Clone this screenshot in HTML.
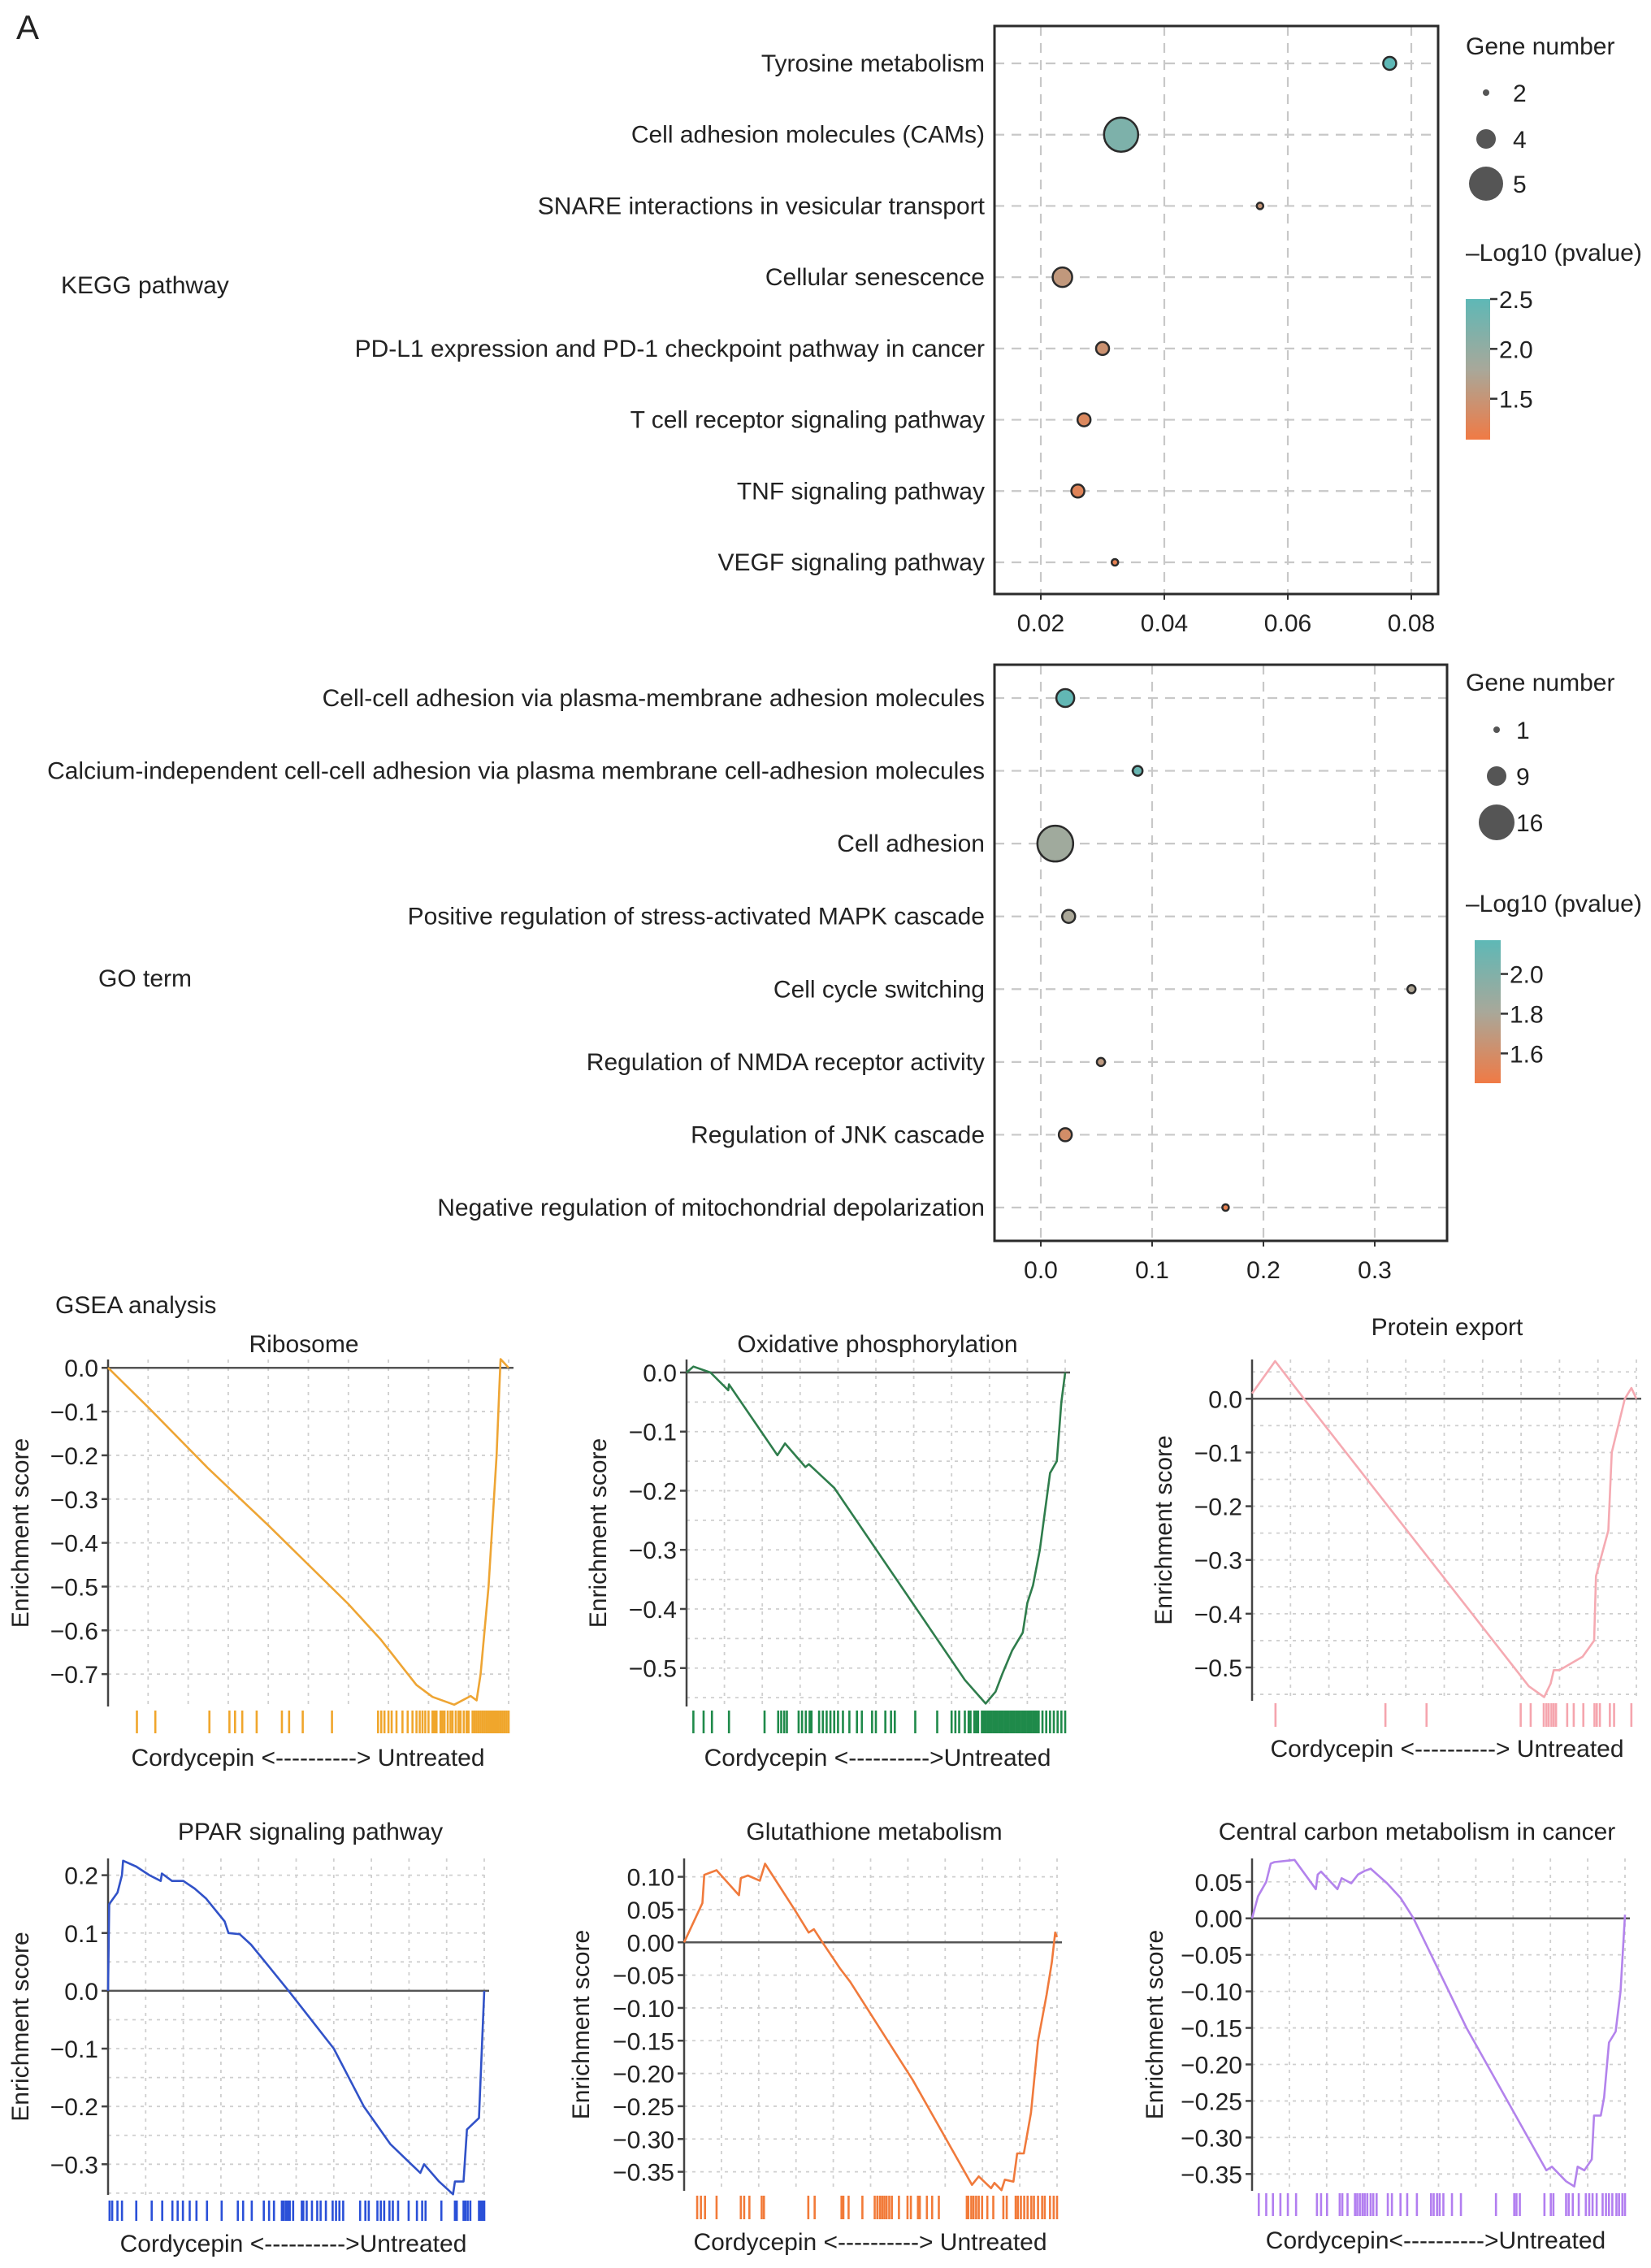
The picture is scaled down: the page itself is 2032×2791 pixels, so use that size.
<!DOCTYPE html>
<html><head><meta charset="utf-8"><title>KEGG / GO / GSEA</title>
<style>
html,body{margin:0;padding:0;background:#fff;}
svg{display:block;font-family:"Liberation Sans",Arial,sans-serif;}
text{fill:#222;}
</style></head>
<body>
<svg id="fig" xmlns="http://www.w3.org/2000/svg" width="2032" height="2791" viewBox="0 0 2032 2791">
<rect x="0" y="0" width="2032" height="2791" fill="#fff"/>
<text x="20" y="48" font-size="42">A</text>
<text x="75" y="361" font-size="30">KEGG pathway</text>
<text x="121" y="1214" font-size="30">GO term</text>
<text x="68" y="1616" font-size="30">GSEA analysis</text>
<g id="layer"></g>
</svg>
<script>
// ===== KEGG dot plot data =====
const keggTerms = ["Tyrosine metabolism","Cell adhesion molecules (CAMs)","SNARE interactions in vesicular transport","Cellular senescence","PD-L1 expression and PD-1 checkpoint pathway in cancer","T cell receptor signaling pathway","TNF signaling pathway","VEGF signaling pathway"];
const keggRatio = [0.0765,0.033,0.0555,0.0235,0.030,0.027,0.026,0.032];
const keggCount = [3,5,2,4,3,3,3,2];
const keggLogP  = [2.5,2.2,1.5,1.55,1.45,1.3,1.25,1.2];
const keggTicks = [0.02,0.04,0.06,0.08];
const keggTickLabels = ["0.02","0.04","0.06","0.08"];
const keggSizeBreaks = [2,4,5];
const keggColorTicks = [2.5,2.0,1.5];
// ===== GO dot plot data =====
const goTerms = ["Cell-cell adhesion via plasma-membrane adhesion molecules","Calcium-independent cell-cell adhesion via plasma membrane cell-adhesion molecules","Cell adhesion","Positive regulation of stress-activated MAPK cascade","Cell cycle switching","Regulation of NMDA receptor activity","Regulation of JNK cascade","Negative regulation of mitochondrial depolarization"];
const goRatio = [0.022,0.087,0.013,0.025,0.333,0.054,0.022,0.166];
const goCount = [8,3,16,5,2,2,5,1];
const goLogP  = [2.15,2.12,1.85,1.8,1.78,1.7,1.6,1.5];
const goTicks = [0.0,0.1,0.2,0.3];
const goTickLabels = ["0.0","0.1","0.2","0.3"];
const goSizeBreaks = [1,9,16];
const goColorTicks = [2.0,1.8,1.6];
// ===== GSEA data =====
const ribX = [0,0.1,0.25,0.4,0.5,0.6,0.68,0.74,0.77,0.81,0.864,0.905,0.92,0.93,0.95,0.97,0.977,0.98,1.0];
const ribY = [0,-0.09,-0.23,-0.36,-0.45,-0.54,-0.62,-0.69,-0.725,-0.752,-0.77,-0.75,-0.76,-0.70,-0.5,-0.2,-0.04,0.02,0];
const ribRug = [.072,.118,.253,.303,.317,.335,.371,.434,.452,.486,.559,.674,.682,.69,.70,.708,.72,.735,.748,.76,.77,.778,.785,.792,.80,.81,.815,.82,.83,.835,.84,.848,.855,.86,.868,.875,.88,.888,.895,.90,.91,.915,.92,.925,.93,.935,.94,.945,.95,.955,.96,.965,.97,.975,.98,.985,.99,.995,1.0];
const ribTicks = [0,-0.1,-0.2,-0.3,-0.4,-0.5,-0.6,-0.7];
const ribTickLabels = ["0.0","\u22120.1","\u22120.2","\u22120.3","\u22120.4","\u22120.5","\u22120.6","\u22120.7"];

const oxX = [0,0.018,0.063,0.11,0.112,0.24,0.26,0.314,0.323,0.39,0.735,0.79,0.816,0.834,0.86,0.888,0.9,0.915,0.933,0.96,0.978,0.99,1.0];
const oxY = [0,0.01,0,-0.03,-0.02,-0.14,-0.12,-0.16,-0.155,-0.195,-0.52,-0.56,-0.54,-0.51,-0.47,-0.44,-0.39,-0.36,-0.30,-0.17,-0.15,-0.05,0];
const oxRug = [.018,.045,.067,.112,.206,.242,.25,.258,.265,.296,.305,.315,.325,.33,.35,.36,.37,.38,.39,.4,.413,.43,.45,.463,.49,.5,.525,.54,.55,.604,.662,.70,.71,.72,.735,.745,.75,.76,.765,.77,.78,.785,.79,.795,.80,.805,.81,.815,.82,.825,.83,.835,.84,.845,.85,.855,.86,.865,.87,.875,.88,.885,.89,.895,.90,.905,.91,.915,.92,.925,.93,.94,.95,.96,.97,.98,.99,1.0];
const oxTicks = [0,-0.1,-0.2,-0.3,-0.4,-0.5];
const oxTickLabels = ["0.0","\u22120.1","\u22120.2","\u22120.3","\u22120.4","\u22120.5"];

const peX = [0,0.06,0.135,0.72,0.76,0.777,0.785,0.80,0.86,0.89,0.895,0.927,0.936,0.97,0.987,1.0];
const peY = [0.01,0.07,0,-0.535,-0.555,-0.53,-0.505,-0.505,-0.48,-0.45,-0.33,-0.245,-0.10,0,0.02,0];
const peRug = [.061,.347,.454,.699,.725,.759,.766,.772,.779,.785,.791,.82,.837,.862,.891,.897,.905,.931,.942,.987];
const peTicks = [0,-0.1,-0.2,-0.3,-0.4,-0.5];
const peTickLabels = ["0.0","\u22120.1","\u22120.2","\u22120.3","\u22120.4","\u22120.5"];

const ppX = [0,0.003,0.025,0.037,0.04,0.075,0.11,0.14,0.143,0.17,0.2,0.23,0.26,0.31,0.32,0.35,0.38,0.43,0.48,0.6,0.68,0.75,0.83,0.84,0.88,0.917,0.922,0.945,0.954,0.986,1.0];
const ppY = [0,0.15,0.17,0.2,0.225,0.215,0.2,0.19,0.203,0.19,0.19,0.177,0.16,0.12,0.1,0.098,0.08,0.04,0,-0.1,-0.2,-0.265,-0.315,-0.3,-0.33,-0.352,-0.33,-0.33,-0.24,-0.22,0];
const ppRug = [.004,.011,.025,.037,.075,.116,.144,.171,.185,.199,.217,.235,.263,.302,.345,.359,.382,.414,.428,.441,.462,.467,.473,.478,.483,.492,.515,.519,.528,.542,.556,.565,.579,.597,.606,.615,.625,.670,.684,.693,.716,.725,.734,.748,.757,.771,.799,.821,.835,.844,.886,.922,.927,.945,.950,.956,.963,.986,.991,.995,1.0];
const ppTicks = [0.2,0.1,0,-0.1,-0.2,-0.3];
const ppTickLabels = ["0.2","0.1","0.0","\u22120.1","\u22120.2","\u22120.3"];

const glX = [0,0.049,0.054,0.087,0.147,0.152,0.171,0.203,0.217,0.296,0.334,0.348,0.371,0.418,0.445,0.613,0.772,0.79,0.823,0.832,0.851,0.86,0.883,0.893,0.911,0.93,0.949,0.972,0.986,0.995,1.0];
const glY = [0,0.06,0.103,0.11,0.072,0.098,0.102,0.094,0.12,0.05,0.015,0.02,0,-0.04,-0.06,-0.21,-0.37,-0.357,-0.375,-0.367,-0.378,-0.362,-0.365,-0.322,-0.322,-0.26,-0.15,-0.08,-0.03,0.015,0.008];
const glRug = [.035,.045,.056,.087,.152,.161,.175,.208,.214,.333,.35,.422,.427,.441,.478,.511,.518,.525,.531,.537,.543,.550,.557,.576,.599,.608,.627,.632,.651,.665,.683,.758,.762,.770,.776,.783,.790,.799,.813,.829,.856,.865,.889,.895,.903,.912,.921,.931,.938,.949,.96,.967,.981,.991,1.0];
const glTicks = [0.10,0.05,0,-0.05,-0.10,-0.15,-0.20,-0.25,-0.30,-0.35];
const glTickLabels = ["0.10","0.05","0.00","\u22120.05","\u22120.10","\u22120.15","\u22120.20","\u22120.25","\u22120.30","\u22120.35"];

const ccX = [0,0.016,0.038,0.05,0.06,0.114,0.171,0.176,0.185,0.229,0.240,0.266,0.284,0.302,0.318,0.362,0.398,0.433,0.575,0.789,0.804,0.842,0.864,0.873,0.891,0.911,0.917,0.935,0.944,0.957,0.975,0.988,1.0];
const ccY = [0,0.03,0.05,0.075,0.077,0.08,0.04,0.06,0.064,0.04,0.055,0.048,0.06,0.065,0.068,0.048,0.028,0,-0.15,-0.345,-0.34,-0.36,-0.367,-0.34,-0.345,-0.33,-0.27,-0.27,-0.245,-0.17,-0.155,-0.1,0.005];
const ccRug = [.018,.038,.056,.076,.096,.118,.174,.185,.201,.235,.242,.256,.276,.282,.289,.296,.302,.309,.318,.325,.334,.364,.375,.398,.416,.442,.480,.487,.496,.503,.513,.536,.560,.654,.703,.709,.718,.784,.801,.808,.842,.849,.860,.876,.895,.904,.913,.924,.940,.949,.957,.966,.977,.984,.993,1.0];
const ccTicks = [0.05,0,-0.05,-0.10,-0.15,-0.20,-0.25,-0.30,-0.35];
const ccTickLabels = ["0.05","0.00","\u22120.05","\u22120.10","\u22120.15","\u22120.20","\u22120.25","\u22120.30","\u22120.35"];

const NS = "http://www.w3.org/2000/svg";
const layer = document.getElementById('layer');
function mk(tag, attrs, parent){ const e=document.createElementNS(NS,tag); for(const k in attrs) e.setAttribute(k,attrs[k]); (parent||layer).appendChild(e); return e; }
function lerp(a,b,t){return a+(b-a)*t;}
function colorAt(t){
  t=Math.max(0,Math.min(1,t));
  const o=[240,122,69], g=[168,168,154], c=[94,184,182];
  let a,b,u; if(t<0.5){a=o;b=g;u=t/0.5;} else {a=g;b=c;u=(t-0.5)/0.5;}
  return 'rgb('+Math.round(lerp(a[0],b[0],u))+','+Math.round(lerp(a[1],b[1],u))+','+Math.round(lerp(a[2],b[2],u))+')';
}
function radiusFor(n, breaks, radii){
  if(n<=breaks[0]) return radii[0]*Math.max(0.6,n/breaks[0]);
  for(let i=1;i<breaks.length;i++){ if(n<=breaks[i]) return lerp(radii[i-1],radii[i],(n-breaks[i-1])/(breaks[i]-breaks[i-1])); }
  return radii[radii.length-1];
}
const FS = 30;

function dotPlot(cfg){
  const g = mk('g',{});
  
  
  const xS = v => cfg.x0px + (v-cfg.x0v)*(cfg.x1px-cfg.x0px)/(cfg.x1v-cfg.x0v);
  const n = cfg.terms.length;
  const yS = i => cfg.row0 + i*(cfg.rowN-cfg.row0)/(n-1);
  const cS = v => cfg.cbTop + (cfg.cbMax - v)*(cfg.cbBot-cfg.cbTop)/(cfg.cbMax-cfg.cbMin);
  cfg.ticks.forEach((t,i)=>{
    const l = mk('line',{x1:xS(t),x2:xS(t),y1:cfg.top,y2:cfg.bottom,stroke:'#c8c8c8','stroke-width':2.2,'stroke-dasharray':'12 9'},g);
    
    
    const tk = mk('line',{x1:xS(t),x2:xS(t),y1:cfg.bottom,y2:cfg.bottom+7,stroke:'#333','stroke-width':2},g);
    
    
    const tl = mk('text',{x:xS(t),y:cfg.bottom+46,'font-size':FS,'text-anchor':'middle'},g);
    tl.textContent = cfg.tickLabels[i];
    
    
  });
  cfg.terms.forEach((term,i)=>{
    const l = mk('line',{x1:cfg.left,x2:cfg.right,y1:yS(i),y2:yS(i),stroke:'#c8c8c8','stroke-width':2.2,'stroke-dasharray':'12 9'},g);
    
    
    const t = mk('text',{x:cfg.left-12,y:yS(i)+10,'font-size':FS,'text-anchor':'end'},g);
    t.textContent = term;
    
    
  });
  cfg.terms.forEach((term,i)=>{
    const r = radiusFor(cfg.count[i], cfg.sizeBreaks, cfg.sizeRadii);
    const tcol = (cfg.logp[i]-cfg.cbMin)/(cfg.cbMax-cfg.cbMin);
    const c = mk('circle',{cx:xS(cfg.ratio[i]),cy:yS(i),r:r,fill:colorAt(tcol),stroke:'#2b2b2b','stroke-width':2.5},g);
    
    
  });
  const box = mk('rect',{x:cfg.left,y:cfg.top,width:cfg.right-cfg.left,height:cfg.bottom-cfg.top,fill:'none',stroke:'#2b2b2b','stroke-width':3},g);
  
  
  const lt = mk('text',{x:cfg.legX,y:cfg.legTitleY,'font-size':FS},g);
  lt.textContent='Gene number';
  
  
  cfg.sizeBreaks.forEach((b,i)=>{
    const c = mk('circle',{cx:cfg.legDotX,cy:cfg.legDotY[i],r:cfg.sizeRadii[i],fill:'#555'},g);
    
    
    const t = mk('text',{x:cfg.legLabX,y:cfg.legDotY[i]+11,'font-size':FS},g);
    t.textContent=String(b);
    
    
  });
  const ct = mk('text',{x:cfg.legX,y:cfg.cbTitleY,'font-size':FS},g);
  ct.textContent='\u2013Log10 (pvalue)';
  
  
  const gid = cfg.name+'-grad';
  const defs = mk('defs',{},g);
  const lg = mk('linearGradient',{id:gid,x1:0,y1:0,x2:0,y2:1},defs);
  mk('stop',{offset:'0','stop-color':colorAt(1)},lg);
  mk('stop',{offset:'0.5','stop-color':colorAt(0.5)},lg);
  mk('stop',{offset:'1','stop-color':colorAt(0)},lg);
  const cb = mk('rect',{x:cfg.cbX,y:cfg.cbTop,width:cfg.cbW,height:cfg.cbBot-cfg.cbTop,fill:'url(#'+gid+')'},g);
  
  
  cfg.colorTicks.forEach(v=>{
    const l = mk('line',{x1:cfg.cbX+cfg.cbW,x2:cfg.cbX+cfg.cbW+9,y1:cS(v),y2:cS(v),stroke:'#333','stroke-width':2.5},g);
    
    
    const t = mk('text',{x:cfg.cbX+cfg.cbW+11,y:cS(v)+11,'font-size':FS},g);
    t.textContent=v.toFixed(1);
    
    
  });
}

dotPlot({name:'kegg-dot-plot',terms:keggTerms,ratio:keggRatio,count:keggCount,logp:keggLogP,ticks:keggTicks,tickLabels:keggTickLabels,
  left:1224,right:1770,top:32,bottom:731,x0v:0.02,x1v:0.08,x0px:1281,x1px:1737,row0:78,rowN:692,
  sizeBreaks:keggSizeBreaks,sizeRadii:[4,12,21],legX:1804,legTitleY:67,legDotX:1829,legLabX:1862,legDotY:[114,171,226],
  cbTitleY:321,cbX:1804,cbW:30,cbTop:368,cbBot:541,cbMax:2.5,cbMin:1.09,colorTicks:keggColorTicks});
dotPlot({name:'go-dot-plot',terms:goTerms,ratio:goRatio,count:goCount,logp:goLogP,ticks:goTicks,tickLabels:goTickLabels,
  left:1224,right:1781,top:818,bottom:1527,x0v:0,x1v:0.3,x0px:1281,x1px:1692,row0:859,rowN:1486,
  sizeBreaks:goSizeBreaks,sizeRadii:[4,12,22],legX:1804,legTitleY:850,legDotX:1842,legLabX:1866,legDotY:[898,955,1012],
  cbTitleY:1122,cbX:1815,cbW:32,cbTop:1157,cbBot:1333,cbMax:2.17,cbMin:1.45,colorTicks:goColorTicks});

function gsea(cfg){
  const g = mk('g',{});
  
  
  const xS = f => cfg.left + f*(cfg.right-cfg.left);
  const yS = v => cfg.top + (cfg.yMax - v)*(cfg.bottom-cfg.top)/(cfg.yMax-cfg.yMin);
  for(let k=1;k<=10;k++){
    const x = cfg.left + k*(cfg.right-cfg.left)/10;
    const l = mk('line',{x1:x,x2:x,y1:cfg.top,y2:cfg.bottom,stroke:'#cfcfcf','stroke-width':1.8,'stroke-dasharray':'4 6'},g);
    
    
  }
  const s = cfg.gridStep;
  for(let v=Math.ceil(cfg.yMin/s)*s; v<=cfg.yMax+1e-9; v+=s){
    if(Math.abs(v)<1e-9) continue;
    const l = mk('line',{x1:cfg.left,x2:cfg.right,y1:yS(v),y2:yS(v),stroke:'#cfcfcf','stroke-width':1.8,'stroke-dasharray':'4 6'},g);
    
    
  }
  const z = mk('line',{x1:cfg.left,x2:cfg.right+6,y1:yS(0),y2:yS(0),stroke:'#555','stroke-width':2.5},g);
  
  
  const ax = mk('line',{x1:cfg.left,x2:cfg.left,y1:cfg.top,y2:cfg.bottom,stroke:'#444','stroke-width':2.5},g);
  
  
  cfg.ticks.forEach((v,i)=>{
    const tk = mk('line',{x1:cfg.left-8,x2:cfg.left,y1:yS(v),y2:yS(v),stroke:'#444','stroke-width':2.5},g);
    
    
    const t = mk('text',{x:cfg.left-12,y:yS(v)+11,'font-size':FS,'text-anchor':'end'},g);
    t.textContent = cfg.tickLabels[i];
    
    
  });
  let d='';
  cfg.xs.forEach((f,i)=>{ d += (i?'L':'M')+xS(f).toFixed(1)+' '+yS(cfg.ys[i]).toFixed(1)+' '; });
  const p = mk('path',{d:d,fill:'none',stroke:cfg.color,'stroke-width':2.6,'stroke-linejoin':'round'},g);
  
  
  cfg.rug.forEach(f=>{
    const l = mk('line',{x1:xS(f),x2:xS(f),y1:cfg.rugTop,y2:cfg.rugBot,stroke:cfg.rugColor,'stroke-width':2.6},g);
    
    
  });
  const tt = mk('text',{x:cfg.titleX,y:cfg.titleY,'font-size':FS,'text-anchor':'middle'},g);
  tt.textContent = cfg.title;
  
  
  const xl = mk('text',{x:cfg.xlabX,y:cfg.xlabY,'font-size':FS,'text-anchor':'middle'},g);
  xl.textContent = cfg.xlab;
  
  
  const cy=(cfg.top+cfg.bottom)/2;
  const yl = mk('text',{x:cfg.ylabX,y:cy,'font-size':FS,'text-anchor':'middle',transform:'rotate(-90 '+cfg.ylabX+' '+cy+')'},g);
  yl.textContent = 'Enrichment score';
  
  
}

gsea({name:'gsea-ribosome',title:'Ribosome',xs:ribX,ys:ribY,rug:ribRug,ticks:ribTicks,tickLabels:ribTickLabels,color:'#eea534',rugColor:'#f0a62c',xlab:'Cordycepin <----------> Untreated',
  left:133,right:626,top:1673,bottom:2100,yMax:0.019,yMin:-0.774,gridStep:0.1,rugTop:2105,rugBot:2133,titleX:374,titleY:1664,xlabX:379,xlabY:2173,ylabX:35});
gsea({name:'gsea-oxidative-phosphorylation',title:'Oxidative phosphorylation',xs:oxX,ys:oxY,rug:oxRug,ticks:oxTicks,tickLabels:oxTickLabels,color:'#2f7d4c',rugColor:'#1f8a4a',xlab:'Cordycepin <---------->Untreated',
  left:845,right:1311,top:1673,bottom:2100,yMax:0.022,yMin:-0.565,gridStep:0.05,rugTop:2105,rugBot:2133,titleX:1080,titleY:1664,xlabX:1080,xlabY:2173,ylabX:746});
gsea({name:'gsea-protein-export',title:'Protein export',xs:peX,ys:peY,rug:peRug,ticks:peTicks,tickLabels:peTickLabels,color:'#f5aab2',rugColor:'#f5a5ae',xlab:'Cordycepin <----------> Untreated',
  left:1541,right:2014,top:1673,bottom:2093,yMax:0.073,yMin:-0.562,gridStep:0.05,rugTop:2096,rugBot:2125,titleX:1781,titleY:1643,xlabX:1781,xlabY:2162,ylabX:1442});
gsea({name:'gsea-ppar-signaling',title:'PPAR signaling pathway',xs:ppX,ys:ppY,rug:ppRug,ticks:ppTicks,tickLabels:ppTickLabels,color:'#3152c8',rugColor:'#2a50d8',xlab:'Cordycepin <---------->Untreated',
  left:133,right:596,top:2287,bottom:2701,yMax:0.229,yMin:-0.353,gridStep:0.05,rugTop:2708,rugBot:2733,titleX:382,titleY:2264,xlabX:361,xlabY:2771,ylabX:35});
gsea({name:'gsea-glutathione-metabolism',title:'Glutathione metabolism',xs:glX,ys:glY,rug:glRug,ticks:glTicks,tickLabels:glTickLabels,color:'#f07a3c',rugColor:'#f27a38',xlab:'Cordycepin <----------> Untreated',
  left:842,right:1301,top:2287,bottom:2696,yMax:0.128,yMin:-0.379,gridStep:0.05,rugTop:2702,rugBot:2731,titleX:1076,titleY:2264,xlabX:1071,xlabY:2769,ylabX:725});
gsea({name:'gsea-central-carbon-metabolism',title:'Central carbon metabolism in cancer',xs:ccX,ys:ccY,rug:ccRug,ticks:ccTicks,tickLabels:ccTickLabels,color:'#b383ec',rugColor:'#b27ef0',xlab:'Cordycepin<---------->Untreated',
  left:1541,right:2000,top:2287,bottom:2696,yMax:0.082,yMin:-0.373,gridStep:0.05,rugTop:2699,rugBot:2727,titleX:1744,titleY:2264,xlabX:1767,xlabY:2767,ylabX:1431});
</script>
</body></html>
